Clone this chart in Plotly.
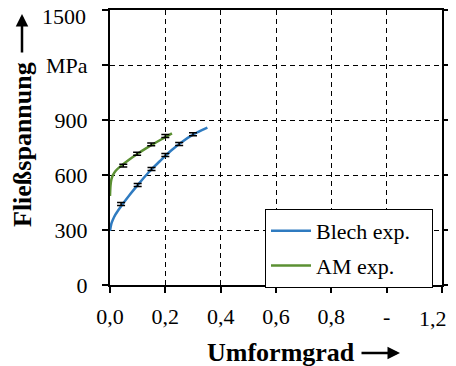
import plotly.graph_objects as go

# Curve data
blech_x = [0, 0.005, 0.01, 0.02, 0.04, 0.07, 0.1, 0.14, 0.18, 0.22, 0.26, 0.3, 0.352]
blech_y = [295, 335, 355, 385, 430, 490, 545, 615, 675, 732, 780, 820, 858]
am_x = [0, 0.002, 0.005, 0.01, 0.02, 0.04, 0.07, 0.1, 0.13, 0.16, 0.19, 0.224]
am_y = [485, 545, 575, 598, 622, 650, 685, 716, 745, 772, 798, 827]

# Experimental points (short error marks)
blech_pts_x = [0.04, 0.10, 0.15, 0.20, 0.25, 0.30]
blech_pts_y = [442, 545, 633, 709, 769, 822]
am_pts_x = [0.048, 0.098, 0.149, 0.20]
am_pts_y = [651, 716, 767, 813]
err = [8, 8, 8, 8, 8, 8]

x_tickvals = [0, 0.2, 0.4, 0.6, 0.8, 1.0, 1.2]
x_ticktext = ["0,0", "0,2", "0,4", "0,6", "0,8", "-", ""]
last_x_label = "1,2"   # drawn shifted left, as in the reference
y_tickvals = [0, 300, 600, 900, 1200, 1500]
y_ticktext = ["0", "300", "600", "900", "MPa", ""]
top_y_label = "1500"   # drawn slightly lower so it is not clipped

FONT = "Liberation Serif"
BLUE = "#2F7BC0"
GREEN = "#5B9033"
NB = "\u00a0"

# page body has an 8px margin; plot area targeted at x 110..442, y 10..285
OFF = 8
L, R, T, B = 110 - OFF, 456 + OFF - 442, 10 - OFF, 366 + OFF - 285
PW = 442 - 110
PH = 285 - 10


def px(xp):
    return (xp - 110) / PW


def py(yp):
    return (285 - yp) / PH


fig = go.Figure()
fig.add_trace(go.Scatter(x=blech_x, y=blech_y, mode="lines", name="Blech exp." + NB * 3,
                         legendgroup="a",
                         line=dict(color=BLUE, width=2.5), line_shape="spline"))
fig.add_trace(go.Scatter(x=am_x, y=am_y, mode="lines", name="AM exp.",
                         legendgroup="b",
                         line=dict(color=GREEN, width=2.5), line_shape="spline"))
for xs, ys in [(blech_pts_x, blech_pts_y), (am_pts_x, am_pts_y)]:
    fig.add_trace(go.Scatter(x=xs, y=ys, mode="markers", showlegend=False,
                             marker=dict(size=1, color="black", opacity=0),
                             error_y=dict(type="data", array=err[:len(xs)], color="black",
                                          thickness=1.5, width=4)))

axis_common = dict(showline=True, linecolor="black", linewidth=2, mirror="ticks",
                   ticks="outside", ticklen=6, tickwidth=2, tickcolor="black",
                   showgrid=True, gridcolor="black", gridwidth=1.2, griddash="5px,4px",
                   zeroline=False, automargin=False, ticklabeloverflow="allow",
                   tickfont=dict(family=FONT, size=22, color="black"))

fig.update_xaxes(range=[0, 1.2], tickvals=x_tickvals, ticktext=x_ticktext,
                 ticklabelstandoff=5, **axis_common)
fig.update_yaxes(range=[0, 1500], tickvals=y_tickvals, ticktext=y_ticktext,
                 ticklabelstandoff=10, **axis_common)

tick_font = dict(family=FONT, size=22, color="black")
title_font = dict(family=FONT, size=26, color="black")

fig.update_layout(
    width=456, height=366,
    margin=dict(l=L, r=R, t=T, b=B),
    paper_bgcolor="white", plot_bgcolor="white",
    showlegend=True,
    legend=dict(x=px(265), y=py(209), xanchor="left", yanchor="top",
                bgcolor="white", bordercolor="black", borderwidth=1,
                font=dict(family=FONT, size=22, color="black"),
                tracegroupgap=3, itemwidth=40),
    annotations=[
        dict(text=last_x_label, xref="x", yref="paper", x=1.2, y=py(318),
             xshift=-9, showarrow=False, font=tick_font,
             xanchor="center", yanchor="middle"),
        dict(text=top_y_label, xref="paper", yref="y", x=px(88), y=1500,
             yshift=-6, showarrow=False, font=tick_font,
             xanchor="right", yanchor="middle"),
        dict(text="<b>Umformgrad</b>", xref="paper", yref="paper", x=px(281), y=py(352),
             showarrow=False, font=title_font,
             xanchor="center", yanchor="middle"),
        dict(text="", xref="paper", yref="paper", x=px(400), y=py(353),
             showarrow=True, arrowhead=2, arrowsize=1, arrowwidth=2.5, arrowcolor="black",
             ax=-40, ay=0),
        dict(text="<b>Fließspannung</b>", xref="paper", yref="paper",
             x=px(22), y=py(145), textangle=-90,
             showarrow=False, font=title_font,
             xanchor="center", yanchor="middle"),
        dict(text="", xref="paper", yref="paper", x=px(22), y=py(14),
             showarrow=True, arrowhead=2, arrowsize=1, arrowwidth=2.5, arrowcolor="black",
             ax=0, ay=40),
    ],
)

fig.write_html("out.html")
